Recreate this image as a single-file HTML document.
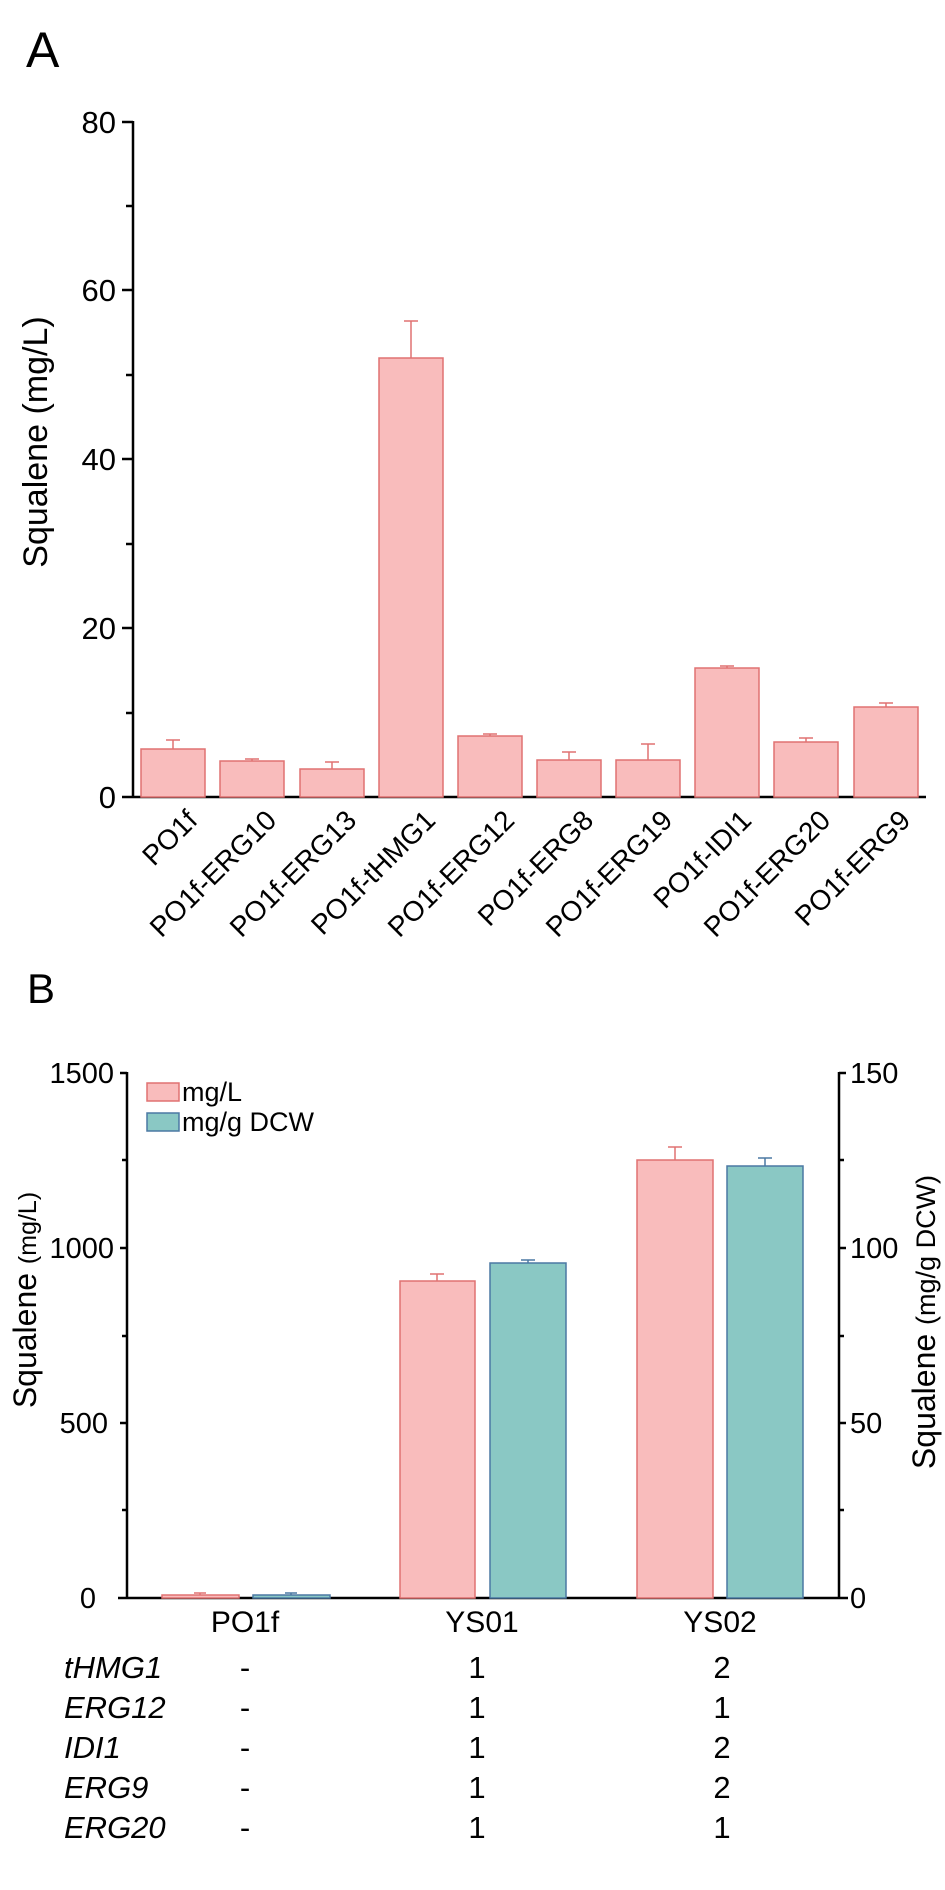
<!DOCTYPE html>
<html><head><meta charset="utf-8"><style>
html,body{margin:0;padding:0;background:#fff;}
svg{display:block;font-family:"Liberation Sans",Arial,sans-serif;}
</style></head><body>
<svg width="945" height="1890" viewBox="0 0 945 1890" xmlns="http://www.w3.org/2000/svg">
<!-- Panel A -->
<text x="26" y="67" font-size="50">A</text>
<g stroke="#000" stroke-width="2.5" fill="none">
<line x1="133" y1="121" x2="133" y2="798"/>
<line x1="122" y1="797" x2="926" y2="797"/>
<line x1="122" y1="122" x2="133" y2="122"/>
<line x1="122" y1="290" x2="133" y2="290"/>
<line x1="122" y1="459" x2="133" y2="459"/>
<line x1="122" y1="628" x2="133" y2="628"/>
<line x1="126" y1="206" x2="133" y2="206"/>
<line x1="126" y1="375" x2="133" y2="375"/>
<line x1="126" y1="544" x2="133" y2="544"/>
<line x1="126" y1="713" x2="133" y2="713"/>
</g>
<g font-size="31" text-anchor="end">
<text x="116" y="133">80</text>
<text x="116" y="301">60</text>
<text x="116" y="470">40</text>
<text x="116" y="639">20</text>
<text x="116" y="808">0</text>
</g>
<text transform="translate(47,442) rotate(-90)" font-size="34" text-anchor="middle">Squalene (mg/L)</text>
<g fill="#f9bcbc" stroke="#e07272" stroke-width="1.5">
<rect x="141" y="749" width="64" height="48"/>
<rect x="220" y="761" width="64" height="36"/>
<rect x="300" y="769" width="64" height="28"/>
<rect x="379" y="358" width="64" height="439"/>
<rect x="458" y="736" width="64" height="61"/>
<rect x="537" y="760" width="64" height="37"/>
<rect x="616" y="760" width="64" height="37"/>
<rect x="695" y="668" width="64" height="129"/>
<rect x="774" y="742" width="64" height="55"/>
<rect x="854" y="707" width="64" height="90"/>
</g>
<g stroke="#e07272" stroke-width="1.5">
<path d="M173 749V740M166 740H180"/>
<path d="M252 761V759M245 759H259"/>
<path d="M332 769V762M325 762H339"/>
<path d="M411 358V321M404 321H418"/>
<path d="M490 736V734M483 734H497"/>
<path d="M569 760V752M562 752H576"/>
<path d="M648 760V744M641 744H655"/>
<path d="M727 668V666M720 666H734"/>
<path d="M806 742V738M799 738H813"/>
<path d="M886 707V703M879 703H893"/>
</g>
<g font-size="28" text-anchor="end">
<text transform="translate(199,822) rotate(-45)">PO1f</text>
<text transform="translate(278,822) rotate(-45)">PO1f-ERG10</text>
<text transform="translate(358,822) rotate(-45)">PO1f-ERG13</text>
<text transform="translate(437,822) rotate(-45)">PO1f-tHMG1</text>
<text transform="translate(516,822) rotate(-45)">PO1f-ERG12</text>
<text transform="translate(595,822) rotate(-45)">PO1f-ERG8</text>
<text transform="translate(674,822) rotate(-45)">PO1f-ERG19</text>
<text transform="translate(753,822) rotate(-45)">PO1f-IDI1</text>
<text transform="translate(832,822) rotate(-45)">PO1f-ERG20</text>
<text transform="translate(912,822) rotate(-45)">PO1f-ERG9</text>
</g>
<!-- Panel B -->
<text x="27" y="1003" font-size="42">B</text>
<g stroke="#000" stroke-width="2.5" fill="none">
<line x1="127" y1="1072" x2="127" y2="1599"/>
<line x1="839" y1="1072" x2="839" y2="1599"/>
<line x1="118" y1="1598" x2="848" y2="1598"/>
<line x1="120" y1="1073" x2="127" y2="1073"/>
<line x1="122" y1="1160" x2="127" y2="1160"/>
<line x1="120" y1="1248" x2="127" y2="1248"/>
<line x1="122" y1="1336" x2="127" y2="1336"/>
<line x1="120" y1="1423" x2="127" y2="1423"/>
<line x1="122" y1="1510" x2="127" y2="1510"/>
<line x1="839" y1="1073" x2="846" y2="1073"/>
<line x1="839" y1="1160" x2="844" y2="1160"/>
<line x1="839" y1="1248" x2="846" y2="1248"/>
<line x1="839" y1="1336" x2="844" y2="1336"/>
<line x1="839" y1="1423" x2="846" y2="1423"/>
<line x1="839" y1="1510" x2="844" y2="1510"/>
</g>
<g font-size="29" text-anchor="end">
<text x="114" y="1083">1500</text>
<text x="114" y="1258">1000</text>
<text x="108" y="1433">500</text>
<text x="96" y="1608">0</text>
</g>
<g font-size="29">
<text x="850" y="1083">150</text>
<text x="850" y="1258">100</text>
<text x="850" y="1433">50</text>
<text x="850" y="1608">0</text>
</g>
<text transform="translate(36,1300) rotate(-90)" text-anchor="middle"><tspan font-size="32">Squalene </tspan><tspan font-size="25">(mg/L)</tspan></text>
<text transform="translate(935,1322) rotate(-90)" text-anchor="middle"><tspan font-size="32">Squalene </tspan><tspan font-size="27">(mg/g DCW)</tspan></text>
<g stroke-width="1.5">
<rect x="162" y="1595" width="77" height="3" fill="#f9bcbc" stroke="#e07272"/>
<rect x="253" y="1595" width="77" height="3" fill="#8ac8c4" stroke="#4b79a3"/>
<rect x="400" y="1281" width="75" height="317" fill="#f9bcbc" stroke="#e07272"/>
<rect x="490" y="1263" width="76" height="335" fill="#8ac8c4" stroke="#4b79a3"/>
<rect x="637" y="1160" width="76" height="438" fill="#f9bcbc" stroke="#e07272"/>
<rect x="727" y="1166" width="76" height="432" fill="#8ac8c4" stroke="#4b79a3"/>
<path d="M200 1595V1593M194 1593H206" stroke="#e07272"/>
<path d="M291 1595V1593M285 1593H297" stroke="#4b79a3"/>
<path d="M437 1281V1274M430 1274H444" stroke="#e07272"/>
<path d="M528 1263V1260M521 1260H535" stroke="#4b79a3"/>
<path d="M675 1160V1147M668 1147H682" stroke="#e07272"/>
<path d="M765 1166V1158M758 1158H772" stroke="#4b79a3"/>
<rect x="147" y="1083" width="32" height="18" fill="#f9bcbc" stroke="#e07272"/>
<rect x="147" y="1113" width="32" height="18" fill="#8ac8c4" stroke="#4b79a3"/>
</g>
<g font-size="27">
<text x="182" y="1101">mg/L</text>
<text x="182" y="1131">mg/g DCW</text>
</g>
<g font-size="30" text-anchor="middle">
<text x="245" y="1632">PO1f</text>
<text x="482" y="1632">YS01</text>
<text x="720" y="1632">YS02</text>
</g>
<g font-size="31" font-style="italic">
<text x="64" y="1678">tHMG1</text>
<text x="64" y="1718">ERG12</text>
<text x="64" y="1758">IDI1</text>
<text x="64" y="1798">ERG9</text>
<text x="64" y="1838">ERG20</text>
</g>
<g font-size="31" text-anchor="middle">
<text x="245" y="1678">-</text><text x="477" y="1678">1</text><text x="722" y="1678">2</text>
<text x="245" y="1718">-</text><text x="477" y="1718">1</text><text x="722" y="1718">1</text>
<text x="245" y="1758">-</text><text x="477" y="1758">1</text><text x="722" y="1758">2</text>
<text x="245" y="1798">-</text><text x="477" y="1798">1</text><text x="722" y="1798">2</text>
<text x="245" y="1838">-</text><text x="477" y="1838">1</text><text x="722" y="1838">1</text>
</g>
</svg>
</body></html>
